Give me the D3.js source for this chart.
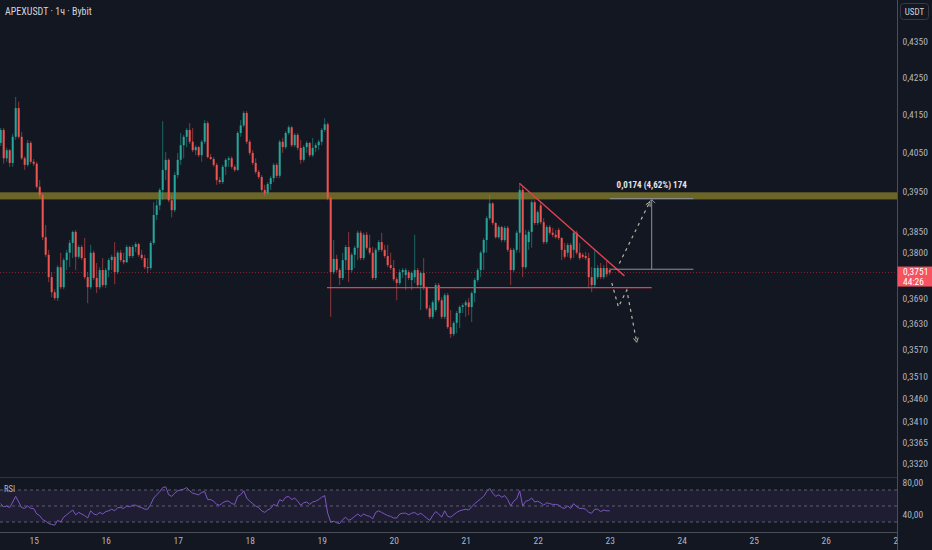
<!DOCTYPE html>
<html>
<head>
<meta charset="utf-8">
<script src="https://cdn.jsdelivr.net/npm/d3@7"></script>
<style>
  body { margin: 0; background: #131722; }
  svg { display: block; }
</style>
</head>
<body>
<div id="chart"></div>
<script>
// ---- data (1h candles, APEXUSDT, first candle 14th 13:00 UTC) ----
var firstCandle = "2025-01-14T13:00:00Z";

var opens = [
  0.4076,0.4110,0.4036,0.4057,0.4024,0.4092,0.4168,0.4092,0.4036,0.4019,
  0.4076,0.4027,0.4022,0.3963,0.3942,0.3837,0.3794,0.3740,0.3704,0.3690,
  0.3764,0.3716,0.3781,0.3799,0.3823,0.3850,0.3789,0.3813,0.3786,0.3740,
  0.3716,0.3799,0.3738,0.3716,0.3757,0.3721,0.3757,0.3781,0.3789,0.3752,
  0.3799,0.3781,0.3776,0.3813,0.3791,0.3813,0.3820,0.3794,0.3786,0.3764,
  0.3762,0.3823,0.3892,0.3916,0.3955,0.4006,0.4032,0.3929,0.3904,0.3993,
  0.4032,0.4070,0.4092,0.4110,0.4079,0.4057,0.4065,0.4044,0.4079,0.4128,
  0.4039,0.4034,0.4019,0.3980,0.3975,0.4014,0.4032,0.4036,0.4014,0.4006,
  0.4102,0.4122,0.4155,0.4079,0.4050,0.4024,0.4001,0.3988,0.3955,0.3947,
  0.3970,0.3985,0.4019,0.3991,0.4079,0.4065,0.4102,0.4117,0.4070,0.4097,
  0.4063,0.4032,0.4065,0.4076,0.4044,0.4063,0.4070,0.4079,0.4110,0.4125,
  0.3934,0.3752,0.3784,0.3757,0.3738,0.3781,0.3813,0.3757,0.3794,0.3811,
  0.3848,0.3786,0.3843,0.3811,0.3799,0.3738,0.3806,0.3825,0.3806,0.3791,
  0.3769,0.3762,0.3735,0.3726,0.3752,0.3745,0.3752,0.3733,0.3740,0.3757,
  0.3721,0.3750,0.3714,0.3666,0.3646,0.3662,0.3721,0.3685,0.3646,0.3697,
  0.3622,0.3606,0.3632,0.3655,0.3669,0.3673,0.3680,0.3669,0.3702,0.3733,
  0.3757,0.3799,0.3830,0.3884,0.3921,0.3872,0.3837,0.3862,0.3830,0.3860,
  0.3806,0.3757,0.3806,0.3848,0.3955,0.3764,0.3825,0.3850,0.3924,0.3872,
  0.3916,0.3874,0.3825,0.3862,0.3848,0.3843,0.3855,0.3835,0.3806,0.3799,
  0.3818,0.3806,0.3848,0.3799,0.3794,0.3791,0.3786,0.3740,0.3721,0.3740,
  0.3762,0.3740,0.3762,0.3757
];
var highs = [
  0.4115,0.4115,0.4063,0.4060,0.4100,0.4198,0.4185,0.4105,0.4041,0.4084,
  0.4081,0.4034,0.4027,0.3980,0.3947,0.3867,0.3806,0.3752,0.3711,0.3769,
  0.3799,0.3786,0.3806,0.3830,0.3853,0.3855,0.3818,0.3818,0.3835,0.3752,
  0.3818,0.3804,0.3774,0.3764,0.3786,0.3762,0.3786,0.3794,0.3825,0.3804,
  0.3806,0.3799,0.3818,0.3816,0.3818,0.3825,0.3823,0.3806,0.3794,0.3786,
  0.3828,0.3924,0.3929,0.3960,0.4133,0.4052,0.4036,0.3942,0.4001,0.4050,
  0.4102,0.4097,0.4115,0.4128,0.4115,0.4070,0.4068,0.4084,0.4136,0.4133,
  0.4047,0.4039,0.4024,0.3988,0.4019,0.4036,0.4041,0.4041,0.4019,0.4107,
  0.4136,0.4160,0.4160,0.4084,0.4057,0.4036,0.4006,0.3993,0.3968,0.3975,
  0.3991,0.4024,0.4024,0.4084,0.4089,0.4107,0.4122,0.4120,0.4102,0.4102,
  0.4084,0.4070,0.4081,0.4078,0.4089,0.4076,0.4084,0.4115,0.4141,0.4130,
  0.3939,0.3830,0.3794,0.3762,0.3799,0.3818,0.3850,0.3799,0.3816,0.3853,
  0.3853,0.3848,0.3850,0.3843,0.3813,0.3811,0.3830,0.3848,0.3818,0.3818,
  0.3799,0.3781,0.3740,0.3759,0.3762,0.3762,0.3757,0.3754,0.3843,0.3762,
  0.3754,0.3786,0.3718,0.3673,0.3685,0.3726,0.3726,0.3692,0.3702,0.3702,
  0.3662,0.3636,0.3660,0.3673,0.3678,0.3685,0.3690,0.3706,0.3738,0.3762,
  0.3804,0.3835,0.3889,0.3942,0.3924,0.3874,0.3867,0.3865,0.3865,0.3865,
  0.3811,0.3811,0.3853,0.3970,0.3965,0.3855,0.3855,0.3929,0.3929,0.3904,
  0.3924,0.3884,0.3867,0.3867,0.3860,0.3855,0.3860,0.3837,0.3823,0.3823,
  0.3823,0.3853,0.3853,0.3823,0.3799,0.3801,0.3799,0.3764,0.3806,0.3769,
  0.3774,0.3769,0.3781,0.3762
];
var lows = [
  0.4068,0.4022,0.4027,0.4014,0.4014,0.4084,0.4087,0.4032,0.4006,0.4014,
  0.4022,0.4016,0.3958,0.3934,0.3830,0.3789,0.3728,0.3692,0.3685,0.3683,
  0.3711,0.3711,0.3757,0.3764,0.3786,0.3757,0.3784,0.3781,0.3735,0.3678,
  0.3711,0.3733,0.3702,0.3711,0.3716,0.3714,0.3740,0.3757,0.3723,0.3747,
  0.3776,0.3771,0.3774,0.3786,0.3786,0.3801,0.3789,0.3781,0.3759,0.3750,
  0.3757,0.3818,0.3879,0.3904,0.3929,0.3980,0.3924,0.3886,0.3899,0.3985,
  0.4019,0.4036,0.4065,0.4073,0.4052,0.4044,0.4039,0.4027,0.4073,0.4036,
  0.4032,0.4014,0.3968,0.3970,0.3970,0.3993,0.4014,0.4009,0.4001,0.4003,
  0.4092,0.4117,0.4073,0.4044,0.4019,0.3996,0.3983,0.3950,0.3939,0.3942,
  0.3955,0.3975,0.3985,0.3985,0.4050,0.4060,0.4097,0.4065,0.4065,0.4057,
  0.4022,0.4027,0.4050,0.4039,0.4039,0.4052,0.4057,0.4070,0.4105,0.3929,
  0.3646,0.3747,0.3752,0.3721,0.3733,0.3757,0.3728,0.3752,0.3762,0.3781,
  0.3781,0.3781,0.3806,0.3794,0.3733,0.3733,0.3801,0.3801,0.3786,0.3764,
  0.3757,0.3730,0.3685,0.3721,0.3738,0.3709,0.3733,0.3709,0.3726,0.3716,
  0.3662,0.3709,0.3662,0.3641,0.3641,0.3657,0.3680,0.3641,0.3641,0.3618,
  0.3597,0.3601,0.3608,0.3620,0.3655,0.3646,0.3650,0.3634,0.3680,0.3728,
  0.3740,0.3757,0.3799,0.3879,0.3867,0.3833,0.3833,0.3825,0.3825,0.3801,
  0.3721,0.3752,0.3799,0.3799,0.3740,0.3759,0.3806,0.3811,0.3867,0.3867,
  0.3869,0.3820,0.3820,0.3843,0.3837,0.3833,0.3830,0.3781,0.3784,0.3789,
  0.3781,0.3786,0.3794,0.3781,0.3784,0.3781,0.3716,0.3704,0.3716,0.3735,
  0.3735,0.3735,0.3740,0.3745
];
var closes = [
  0.4110,0.4036,0.4057,0.4024,0.4092,0.4168,0.4092,0.4036,0.4019,0.4076,
  0.4027,0.4022,0.3963,0.3942,0.3837,0.3794,0.3740,0.3704,0.3690,0.3764,
  0.3716,0.3781,0.3799,0.3823,0.3850,0.3789,0.3813,0.3786,0.3740,0.3716,
  0.3799,0.3738,0.3716,0.3757,0.3721,0.3757,0.3781,0.3789,0.3752,0.3799,
  0.3781,0.3776,0.3813,0.3791,0.3813,0.3820,0.3794,0.3786,0.3764,0.3762,
  0.3823,0.3892,0.3916,0.3955,0.4006,0.4032,0.3929,0.3904,0.3993,0.4032,
  0.4070,0.4092,0.4110,0.4079,0.4057,0.4065,0.4044,0.4079,0.4128,0.4039,
  0.4034,0.4019,0.3980,0.3975,0.4014,0.4032,0.4036,0.4014,0.4006,0.4102,
  0.4122,0.4155,0.4079,0.4050,0.4024,0.4001,0.3988,0.3955,0.3947,0.3970,
  0.3985,0.4019,0.3991,0.4079,0.4065,0.4102,0.4117,0.4070,0.4097,0.4063,
  0.4032,0.4065,0.4076,0.4044,0.4063,0.4070,0.4079,0.4110,0.4125,0.3934,
  0.3752,0.3784,0.3757,0.3738,0.3781,0.3813,0.3757,0.3794,0.3811,0.3848,
  0.3786,0.3843,0.3811,0.3799,0.3738,0.3806,0.3825,0.3806,0.3791,0.3769,
  0.3762,0.3735,0.3726,0.3752,0.3757,0.3757,0.3738,0.3750,0.3757,0.3721,
  0.3750,0.3714,0.3666,0.3646,0.3680,0.3721,0.3685,0.3646,0.3697,0.3622,
  0.3606,0.3632,0.3655,0.3669,0.3673,0.3680,0.3669,0.3702,0.3733,0.3757,
  0.3799,0.3830,0.3884,0.3921,0.3872,0.3837,0.3862,0.3830,0.3860,0.3806,
  0.3757,0.3806,0.3848,0.3955,0.3764,0.3843,0.3850,0.3924,0.3872,0.3899,
  0.3874,0.3825,0.3862,0.3848,0.3843,0.3837,0.3835,0.3806,0.3789,0.3818,
  0.3786,0.3848,0.3799,0.3786,0.3789,0.3786,0.3740,0.3721,0.3762,0.3762,
  0.3740,0.3762,0.3747,0.3751
];
var rsiValues = [
  53,49,50,48,55,62,55,48,47,50,
  47,47,40,38,33,31,28,27,26,32,
  30,36,39,42,45,39,42,40,38,35,
  44,40,39,42,40,43,44,46,44,48,
  48,47,50,49,51,51,49,48,46,46,
  52,60,64,68,73,74,64,62,66,69,
  70,71,73,69,66,65,64,67,68,58,
  58,56,52,51,54,56,56,53,52,62,
  64,69,60,56,53,50,48,44,42,45,
  47,52,50,58,56,61,62,58,60,56,
  51,54,55,52,55,56,58,61,63,41,
  30,31,29,28,33,36,32,34,37,40,
  37,40,38,37,34,42,44,42,40,38,
  37,35,35,40,41,41,39,41,42,39,
  41,38,35,32,38,43,40,36,44,37,
  36,39,42,44,45,46,45,49,53,56,
  59,62,68,72,66,62,64,61,63,58,
  50,56,59,69,50,56,57,60,55,56,
  54,51,54,53,52,52,51,48,47,50,
  47,53,49,47,47,46,42,41,46,46,
  43,45,44,44
];

var dayTicks = ["2025-01-15","2025-01-16","2025-01-17","2025-01-18","2025-01-19","2025-01-20",
                "2025-01-21","2025-01-22","2025-01-23","2025-01-24","2025-01-25","2025-01-26","2025-01-27"];
var priceTicks = [0.4350,0.4250,0.4150,0.4050,0.3950,0.3850,0.3800,0.3690,0.3630,0.3570,0.3510,0.3460,0.3410,0.3365,0.3320];
var rsiTicks = [80, 40];
var rsiLevels = [70, 50, 30];

// drawings on the chart
var zonePrices = [0.3931, 0.3949];
var supportPts = [["2025-01-19T01:45:00Z", 0.3715], ["2025-01-23T14:00:00Z", 0.3715]];
var trendPts = [["2025-01-21T17:54:00Z", 0.3972], ["2025-01-23T04:54:00Z", 0.3743]];
var measureFrom = ["2025-01-23T00:06:00Z", 0.3759];
var measureTo = ["2025-01-24T03:54:00Z", 0.3933];
var measureMid = "2025-01-23T14:00:00Z";
var measureLabel = "0,0174 (4,62%) 174";
var upPath = [["2025-01-23T03:12:00Z", 0.3773], ["2025-01-23T13:24:00Z", 0.3925]];
var downPath = [["2025-01-23T00:42:00Z", 0.3726], ["2025-01-23T02:54:00Z", 0.3669],
                ["2025-01-23T05:42:00Z", 0.3709], ["2025-01-23T09:00:00Z", 0.3587]];
var titleText = "APEXUSDT · 1ч · Bybit";
var countdown = "44:26";

// ---- layout ----
var W = 932, H = 550;
var plotR = 897.5, paneSep = 477.5, timeTop = 532.5;
var FONT = '"Liberation Sans Narrow","Arial Narrow","Roboto Condensed","Liberation Sans",sans-serif';
var up = "#26a69a", down = "#ef5350";

var x = d3.scaleUtc()
  .domain([new Date("2025-01-15T00:00:00Z"), new Date("2025-01-27T00:00:00Z")])
  .range([33.7, 897.7]);
var y = d3.scaleLog().domain([0.3320, 0.4350]).range([463, 41.4]);
var yr = d3.scaleLinear().domain([30, 70]).range([522, 490]);

var t0 = new Date(firstCandle);
var candles = closes.map(function (c, i) {
  return { t: d3.utcHour.offset(t0, i), o: opens[i], h: highs[i], l: lows[i], c: c, r: rsiValues[i] };
});
function pt(p) { return [x(new Date(p[0])), y(p[1])]; }

var svg = d3.select("#chart").append("svg")
  .attr("width", W).attr("height", H)
  .style("font-family", FONT);

svg.append("rect").attr("width", W).attr("height", H).attr("fill", "#131722");

var defs = svg.append("defs");
defs.append("clipPath").attr("id", "plotClip").append("rect")
  .attr("width", plotR).attr("height", paneSep);
defs.append("clipPath").attr("id", "rsiClip").append("rect")
  .attr("y", paneSep).attr("width", plotR).attr("height", timeTop - paneSep);
defs.append("clipPath").attr("id", "timeClip").append("rect")
  .attr("y", timeTop).attr("width", plotR).attr("height", H - timeTop);

// ---- main price pane ----
var plot = svg.append("g").attr("clip-path", "url(#plotClip)");

// yellow resistance zone
plot.append("rect")
  .attr("x", 0).attr("width", plotR)
  .attr("y", y(zonePrices[1]))
  .attr("height", y(zonePrices[0]) - y(zonePrices[1]))
  .attr("fill", "#6b6628");

// current price dotted line
var lastClose = closes[closes.length - 1];
plot.append("line")
  .attr("x1", 0).attr("x2", plotR)
  .attr("y1", y(lastClose)).attr("y2", y(lastClose))
  .attr("stroke", "#f23645").attr("stroke-width", 1)
  .attr("stroke-dasharray", "1,2").attr("opacity", 0.5);

// candles
var cg = plot.append("g");
cg.selectAll("line.wick").data(candles).enter().append("line")
  .attr("class", "wick")
  .attr("x1", function (d) { return x(d.t); })
  .attr("x2", function (d) { return x(d.t); })
  .attr("y1", function (d) { return y(d.h); })
  .attr("y2", function (d) { return y(d.l); })
  .attr("stroke", function (d) { return d.c >= d.o ? up : down; })
  .attr("stroke-width", 1)
  .attr("opacity", 0.55);
cg.selectAll("rect.body").data(candles).enter().append("rect")
  .attr("class", "body")
  .attr("x", function (d) { return x(d.t) - 1; })
  .attr("width", 2)
  .attr("y", function (d) { return y(Math.max(d.o, d.c)); })
  .attr("height", function (d) { return Math.max(1, Math.abs(y(d.o) - y(d.c))); })
  .attr("fill", function (d) { return d.c >= d.o ? up : down; });

// red support line and falling trend line
var line = d3.line();
plot.append("path").attr("d", line(supportPts.map(pt)))
  .attr("fill", "none").attr("stroke", "#e3404f").attr("stroke-width", 1.4);
plot.append("path").attr("d", line(trendPts.map(pt)))
  .attr("fill", "none").attr("stroke", "#e3404f").attr("stroke-width", 1.4);

// measure (price range) tool
var mx1 = x(new Date(measureFrom[0])), mx2 = x(new Date(measureTo[0]));
var my1 = y(measureFrom[1]), my2 = y(measureTo[1]);
var mxm = x(new Date(measureMid));
var mg = plot.append("g").attr("stroke", "#8d909a").attr("stroke-width", 1).attr("fill", "none");
mg.append("line").attr("x1", mx1).attr("x2", mx2).attr("y1", my1).attr("y2", my1);
mg.append("line").attr("x1", mx1).attr("x2", mx2).attr("y1", my2).attr("y2", my2);
mg.append("line").attr("x1", mxm).attr("x2", mxm).attr("y1", my1).attr("y2", my2 + 1);
mg.append("path").attr("d", "M" + (mxm - 3.5) + "," + (my2 + 4.5) + "L" + mxm + "," + (my2 + 1) + "L" + (mxm + 3.5) + "," + (my2 + 4.5));
plot.append("text")
  .attr("x", mxm).attr("y", my2 - 11)
  .attr("text-anchor", "middle")
  .attr("fill", "#e0e3eb").attr("font-size", 9).attr("font-weight", "bold")
  .text(measureLabel);

// dashed forecast paths
function arrowHead(g, a, b) {
  var ang = Math.atan2(b[1] - a[1], b[0] - a[0]), L = 5, s = 0.5;
  var p1 = [b[0] - L * Math.cos(ang - s), b[1] - L * Math.sin(ang - s)];
  var p2 = [b[0] - L * Math.cos(ang + s), b[1] - L * Math.sin(ang + s)];
  g.append("path").attr("d", "M" + p1 + "L" + b + "L" + p2)
    .attr("fill", "none").attr("stroke", "#b4b3a4").attr("stroke-width", 1);
}
var fg = plot.append("g");
[upPath, downPath].forEach(function (p) {
  var pts = p.map(pt);
  fg.append("path").attr("d", line(pts))
    .attr("fill", "none").attr("stroke", "#b4b3a4")
    .attr("stroke-width", 1.2).attr("stroke-dasharray", "3,4");
  arrowHead(fg, pts[pts.length - 2], pts[pts.length - 1]);
});

// title
svg.append("text")
  .attr("x", 5).attr("y", 15)
  .attr("fill", "#d1d4dc").attr("font-size", 10)
  .text(titleText);

// ---- RSI pane ----
var rsiG = svg.append("g").attr("clip-path", "url(#rsiClip)");
rsiG.append("rect")
  .attr("x", 0).attr("width", plotR)
  .attr("y", yr(70)).attr("height", yr(30) - yr(70))
  .attr("fill", "#7e57c2").attr("fill-opacity", 0.1);
rsiG.selectAll("line.lvl").data(rsiLevels).enter().append("line")
  .attr("class", "lvl")
  .attr("x1", 0).attr("x2", plotR)
  .attr("y1", function (d) { return yr(d); })
  .attr("y2", function (d) { return yr(d); })
  .attr("stroke", "#787b86").attr("stroke-opacity", 0.7)
  .attr("stroke-dasharray", "3,3");
rsiG.append("path")
  .datum(candles)
  .attr("d", d3.line().x(function (d) { return x(d.t); }).y(function (d) { return yr(d.r); }))
  .attr("fill", "none").attr("stroke", "#7e57c2").attr("stroke-width", 1);
svg.append("text")
  .attr("x", 4).attr("y", 492)
  .attr("fill", "#b2b5be").attr("font-size", 8.5)
  .text("RSI");

// ---- frame lines ----
svg.append("line").attr("x1", 0).attr("x2", plotR).attr("y1", paneSep).attr("y2", paneSep)
  .attr("stroke", "#2f333e");
svg.append("line").attr("x1", 0).attr("x2", plotR).attr("y1", timeTop).attr("y2", timeTop)
  .attr("stroke", "#4a4e59");
svg.append("line").attr("x1", plotR).attr("x2", plotR).attr("y1", 0).attr("y2", H)
  .attr("stroke", "#4a4e59");

// ---- axes ----
function styleAxis(g) {
  g.select(".domain").remove();
  g.selectAll("text").attr("fill", "#b2b5be").attr("font-size", 9.5).attr("font-family", FONT);
}
var yAxis = d3.axisRight(y).tickValues(priceTicks).tickSize(0).tickPadding(5)
  .tickFormat(function (d) { return d.toFixed(4).replace(".", ","); });
svg.append("g").attr("transform", "translate(" + plotR + ",0)").call(yAxis).call(styleAxis);

var rAxis = d3.axisRight(yr).tickValues(rsiTicks).tickSize(0).tickPadding(5)
  .tickFormat(function (d) { return d.toFixed(2).replace(".", ","); });
svg.append("g").attr("transform", "translate(" + plotR + ",0)").call(rAxis).call(styleAxis);

var xAxis = d3.axisBottom(x)
  .tickValues(dayTicks.map(function (d) { return new Date(d + "T00:00:00Z"); }))
  .tickFormat(d3.utcFormat("%-d")).tickSize(0).tickPadding(5);
svg.append("g").attr("clip-path", "url(#timeClip)")
  .append("g").attr("transform", "translate(0," + timeTop + ")")
  .call(xAxis).call(styleAxis);

// USDT box
svg.append("rect").attr("x", 900.5).attr("y", 3.5).attr("width", 28).attr("height", 16).attr("rx", 3)
  .attr("fill", "#131722").attr("stroke", "#363a45");
svg.append("text").attr("x", 914.5).attr("y", 14.5).attr("text-anchor", "middle")
  .attr("fill", "#d1d4dc").attr("font-size", 9).text("USDT");

// current price label
var yp = y(lastClose);
svg.append("rect").attr("x", plotR).attr("y", yp - 6).attr("width", W - plotR).attr("height", 20)
  .attr("fill", "#f7525f");
svg.append("text").attr("x", 903).attr("y", yp + 2.5)
  .attr("fill", "#ffffff").attr("font-size", 9.5)
  .text(lastClose.toFixed(4).replace(".", ","));
svg.append("text").attr("x", 903).attr("y", yp + 12)
  .attr("fill", "#ffffff").attr("font-size", 9.5)
  .text(countdown);
</script>
</body>
</html>
